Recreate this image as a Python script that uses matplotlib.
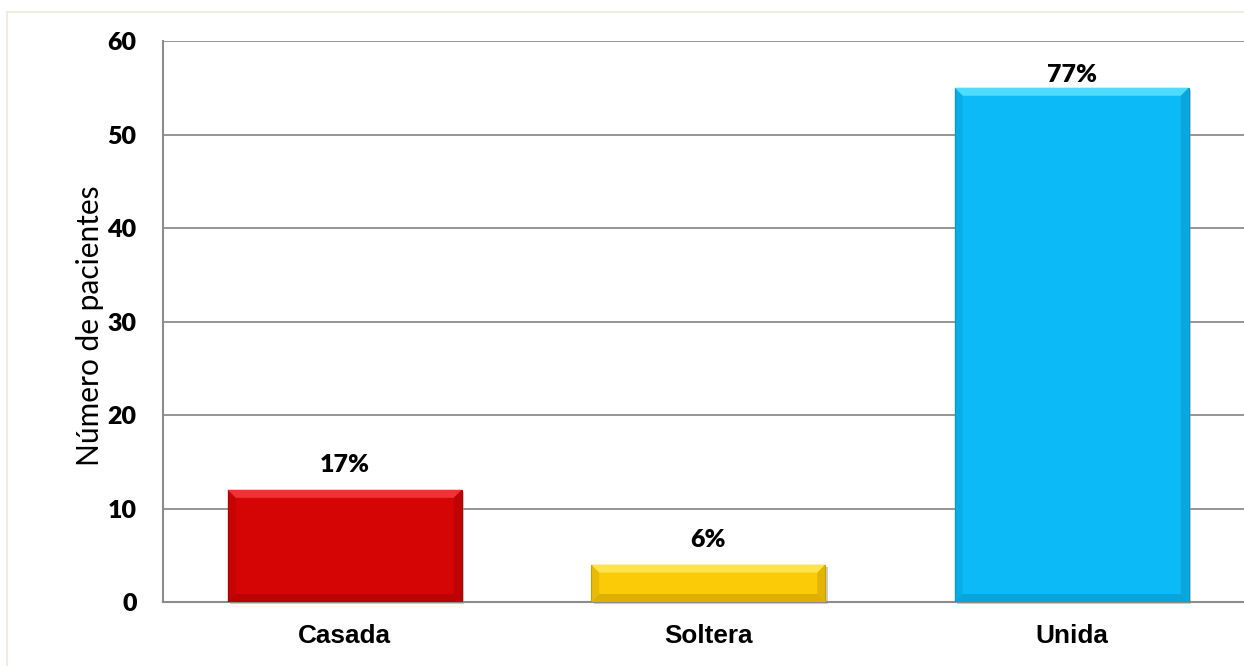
import numpy as np
import matplotlib
matplotlib.use('Agg')
import matplotlib.pyplot as plt
from matplotlib.patches import Polygon, Rectangle

estados = ['Casada', 'Soltera', 'Unida']
pacientes = [12, 4, 55]
porcentajes = ['17%', '6%', '77%']
colores = ['#D50505', '#FCCB08', '#0BBAF7']
claros = ['#EC3434', '#FFE34A', '#4FDBFB']
oscuros = ['#A80303', '#C99E00', '#0896C6']
yticks = [0, 10, 20, 30, 40, 50, 60]

fig = plt.figure(figsize=(12.44, 6.66), dpi=100)
fig.patch.set_facecolor('white')
# marco claro del area del grafico
fig.patches.append(Rectangle((7 / 1244, -0.1), 1.2, 1 - 12 / 666 + 0.1, transform=fig.transFigure,
                             fill=False, edgecolor='#EFEBDF', lw=1.5))

ax = fig.add_axes([163 / 1244, 64 / 666, 1090.5 / 1244, 561 / 666])
ax.set_xlim(-0.5, 2.5)
ax.set_ylim(0, 60)

ancho = 0.644
x = np.arange(len(estados))

ax.set_yticks(yticks)
ax.yaxis.grid(True, color='#8C8C8C', lw=1.3)
ax.set_axisbelow(True)
for s in ['top', 'right']:
    ax.spines[s].set_visible(False)
for s in ['left', 'bottom']:
    ax.spines[s].set_color('#8C8C8C')
    ax.spines[s].set_linewidth(1.5)
ax.tick_params(axis='both', length=0)
ax.tick_params(axis='y', pad=19)
ax.tick_params(axis='x', pad=16)
ax.set_xticks(x)
ax.set_xticklabels(estados, fontfamily='Liberation Sans', fontweight='bold', fontsize=18.8)
for lab in ax.get_yticklabels():
    lab.set_fontfamily('Lato')
    lab.set_fontweight('heavy')
    lab.set_fontsize(18)

# tamaño del bisel en pixeles pasado a unidades de datos
bisel_px = 8
p0 = ax.transData.inverted().transform((0, 0))
p1 = ax.transData.inverted().transform((bisel_px, bisel_px))
bx, by = p1 - p0

for xi, v, c, cl, co, txt in zip(x, pacientes, colores, claros, oscuros, porcentajes):
    x0, x1 = xi - ancho / 2, xi + ancho / 2
    # sombra
    ax.add_patch(Rectangle((x0 + bx * 0.3, -by * 0.3), ancho, v, facecolor='#9A9A9A', alpha=0.5,
                           lw=0, zorder=2, clip_on=False))
    ax.bar(xi, v, width=ancho, color=c, edgecolor=co, lw=0.8, zorder=3)
    b = min(by, v / 3)
    ax.add_patch(Polygon([(x0, v), (x1, v), (x1 - bx, v - b), (x0 + bx, v - b)],
                         closed=True, facecolor=cl, lw=0, zorder=4))
    ax.add_patch(Polygon([(x0, 0), (x1, 0), (x1 - bx, b), (x0 + bx, b)],
                         closed=True, facecolor=co, lw=0, alpha=0.6, zorder=4))
    ax.add_patch(Polygon([(x0, 0), (x0, v), (x0 + bx, v - b), (x0 + bx, b)],
                         closed=True, facecolor=co, lw=0, alpha=0.35, zorder=4))
    ax.add_patch(Polygon([(x1, 0), (x1, v), (x1 - bx, v - b), (x1 - bx, b)],
                         closed=True, facecolor=co, lw=0, alpha=0.5, zorder=4))
    # la etiqueta de la barra mas alta se queda dentro del area
    ty = min(v + 2.6, 56.4)
    ax.text(xi, ty, txt, ha='center', va='center', fontfamily='Lato', fontweight='heavy',
            fontsize=18, zorder=5)

fig.text(90 / 1244, 1 - 326 / 666, 'Número de pacientes', rotation=90, ha='center', va='center',
         fontfamily='Lato', fontsize=21.5)

fig.savefig('out.png', dpi=100)
